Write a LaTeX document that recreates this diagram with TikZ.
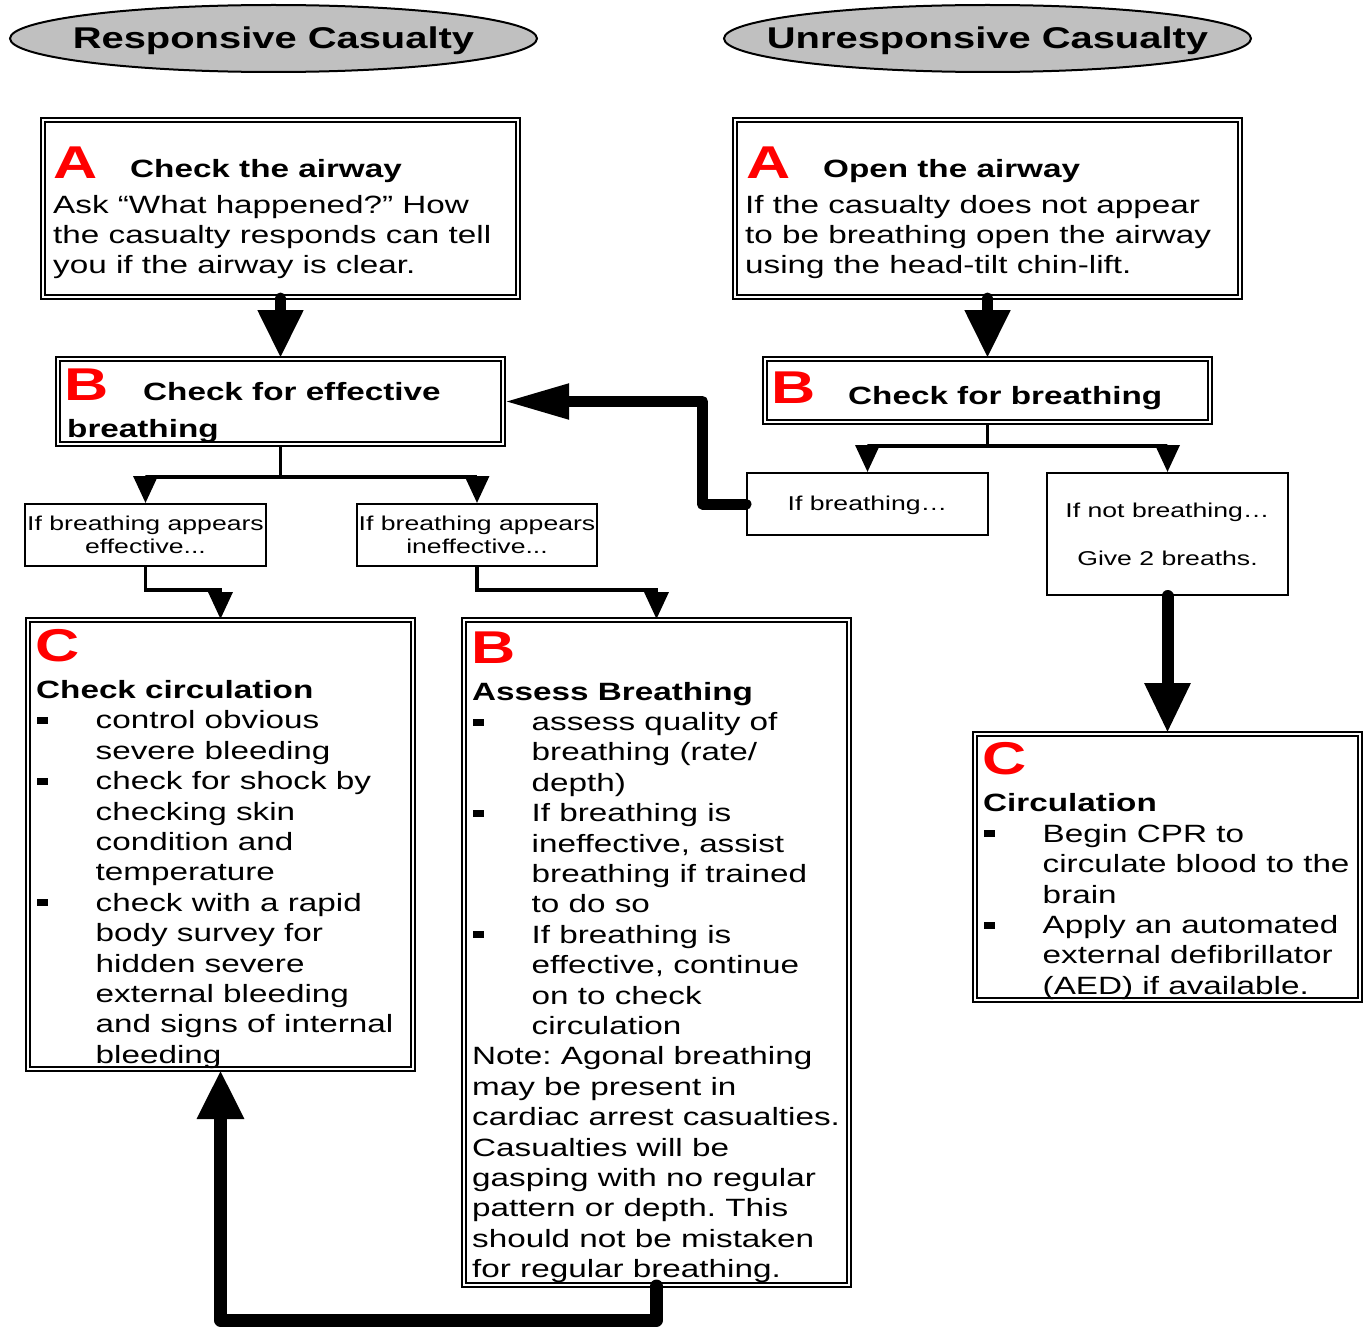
\documentclass[tikz,border=0pt]{standalone}
\usepackage{fontspec}
\setmainfont{Liberation Sans}[FakeStretch=1.33]
\usetikzlibrary{arrows.meta,shapes.geometric}
\definecolor{ttlgray}{HTML}{C0C0C0}
\definecolor{abcred}{HTML}{FF0000}
\newcommand\bulitem{\makebox[59.5pt][l]{\hspace{1pt}\rule[5pt]{11pt}{7pt}}}
\newcommand\contind{\hspace*{59.5pt}}
\frenchspacing
\tikzset{
  dbox/.style={draw=black, line width=2pt, double=white, double distance=2.7pt, inner sep=0pt},
  sbox/.style={draw=black, line width=2pt, inner sep=0pt},
  ttl/.style={ellipse, draw=black, line width=2pt, fill=ttlgray, inner sep=0pt,
    minimum width=527pt, minimum height=67pt},
  ttltext/.style={inner sep=0pt, font=\fontsize{30}{36}\selectfont\bfseries},
  bigl/.style={font=\fontsize{46}{50}\selectfont\bfseries, text=abcred, anchor=base west, inner sep=0pt},
  head/.style={font=\fontsize{25}{30.4}\selectfont\bfseries, anchor=base west, inner sep=0pt},
  body/.style={font=\fontsize{25}{30.4}\selectfont, anchor=north west, inner sep=0pt, align=left},
  small/.style={font=\fontsize{20}{23.5}\selectfont, inner sep=0pt, anchor=base},
  thin/.style={line width=3.5pt, -{Triangle[length=27pt,width=24pt]}},
  thick/.style={line width=11pt, line cap=round, line join=round}
}
\begin{document}
\begin{tikzpicture}[x=1pt, y=-1pt]
\useasboundingbox (0,0) rectangle (1370,1327);

% titles
\node[ttl] (t1) at (273.5,38.5) {};
\node[ttltext] (t1t) at (273.5,40.5) {Responsive Casualty};
\node[ttl] (t2) at (987.5,38.5) {};
\node[ttltext] (t2t) at (987.5,40.5) {Unresponsive Casualty};

% A boxes
\node[dbox, minimum width=475pt, minimum height=177pt] (aL) at (280.5,208.5) {};
\node[bigl] (aLl) at (53,178) {A};
\node[head] (aLh) at (130,177) {Check the airway};
\node[body] (aLb) at (53,191.7) {\strut Ask “What happened?” How\\the casualty responds can tell\\you if the airway is clear.};

\node[dbox, minimum width=505pt, minimum height=177pt] (aR) at (987.5,208.5) {};
\node[bigl] (aRl) at (746,178) {A};
\node[head] (aRh) at (823,177) {Open the airway};
\node[body] (aRb) at (745,191.7) {\strut If the casualty does not appear\\to be breathing open the airway\\using the head-tilt chin-lift.};

% B boxes
\node[dbox, minimum width=445pt, minimum height=85pt] (bL) at (280.5,401.5) {};
\node[bigl] (bLl) at (64,400) {B};
\node[head] (bLh) at (143,400) {Check for effective};
\node[head] (bLh2) at (67,437) {breathing};

\node[dbox, minimum width=445pt, minimum height=63pt] (bR) at (987.5,390.5) {};
\node[bigl] (bRl) at (771,403) {B};
\node[head] (bRh) at (848,404) {Check for breathing};

% small boxes
\node[sbox, minimum width=241pt, minimum height=62pt] (sE) at (145.5,535) {};
\node[small] (sE1) at (145.5,530) {If breathing appears};
\node[small] (sE2) at (145.5,553) {effective...};
\node[sbox, minimum width=240pt, minimum height=62pt] (sI) at (477,535) {};
\node[small] (sI1) at (477,530) {If breathing appears};
\node[small] (sI2) at (477,553) {ineffective...};
\node[sbox, minimum width=241pt, minimum height=62pt] (sB) at (867.5,504) {};
\node[small] (sB1) at (867.5,510) {If breathing…};
\node[sbox, minimum width=241pt, minimum height=122pt] (sN) at (1167.5,534) {};
\node[small] (sN1) at (1167.5,517) {If not breathing…};
\node[small] (sN2) at (1167.5,565) {Give 2 breaths.};

% C left
\node[dbox, minimum width=385pt, minimum height=449pt] (cL) at (220.5,844.5) {};
\node[bigl] (cLl) at (35,661) {C};
\node[body] (cLb) at (36,677) {\strut\textbf{Check circulation}\\
\bulitem control obvious\\
\contind severe bleeding\\
\bulitem check for shock by\\
\contind checking skin\\
\contind condition and\\
\contind temperature\\
\bulitem check with a rapid\\
\contind body survey for\\
\contind hidden severe\\
\contind external bleeding\\
\contind and signs of internal\\
\contind bleeding};

% B assess
\node[dbox, minimum width=385pt, minimum height=665pt] (bA) at (656.5,952.5) {};
\node[bigl] (bAl) at (471,663) {B};
\node[body] (bAb) at (472,678.7) {\strut\textbf{Assess Breathing}\\
\bulitem assess quality of\\
\contind breathing (rate/\\
\contind depth)\\
\bulitem If breathing is\\
\contind ineffective, assist\\
\contind breathing if trained\\
\contind to do so\\
\bulitem If breathing is\\
\contind effective, continue\\
\contind on to check\\
\contind circulation\\
Note: Agonal breathing\\
may be present in\\
cardiac arrest casualties.\\
Casualties will be\\
gasping with no regular\\
pattern or depth. This\\
should not be mistaken\\
for regular breathing.};

% C right
\node[dbox, minimum width=385pt, minimum height=266pt] (cR) at (1167.5,867) {};
\node[bigl] (cRl) at (982,774) {C};
\node[body] (cRb) at (983,790.5) {\strut\textbf{Circulation}\\
\bulitem Begin CPR to\\
\contind circulate blood to the\\
\contind brain\\
\bulitem Apply an automated\\
\contind external defibrillator\\
\contind (AED) if available.};

% connectors
\draw[thick, -{Triangle[length=48pt,width=43pt]}] (aL.south) -- (bL.north);
\draw[thick, -{Triangle[length=48pt,width=43pt]}] (aR.south) -- (bR.north);

\coordinate (jL) at (280.5,477);
\draw[line width=3.5pt] (bL.south) -- (jL);
\draw[thin] (jL) -| (sE.north);
\draw[thin] (jL) -| (sI.north);

\coordinate (jR) at (987.5,446);
\draw[line width=3.5pt] (bR.south) -- (jR);
\draw[thin] (jR) -| (sB.north);
\draw[thin] (jR) -| (sN.north);

\coordinate (eM) at (145.5,590);
\draw[thin] (sE.south) -- (eM) -| (cL.north);
\coordinate (iM) at (477,590);
\draw[thin] (sI.south) -- (iM) -| (bA.north);

\coordinate (kB) at (702.5,504);
\draw[thick, -{Triangle[length=65pt,width=33pt]}] (sB.west) -- (kB) |- (bL.east);

\draw[thick, line width=12pt, -{Triangle[length=50pt,width=43pt]}] (sN.south) -- (cR.north);

\coordinate (mB) at (656.5,1320);
\draw[thick, line width=13pt, -{Triangle[length=49pt,width=44pt]}] (bA.south) -- (mB) -| (cL.south);
\end{tikzpicture}
\end{document}
